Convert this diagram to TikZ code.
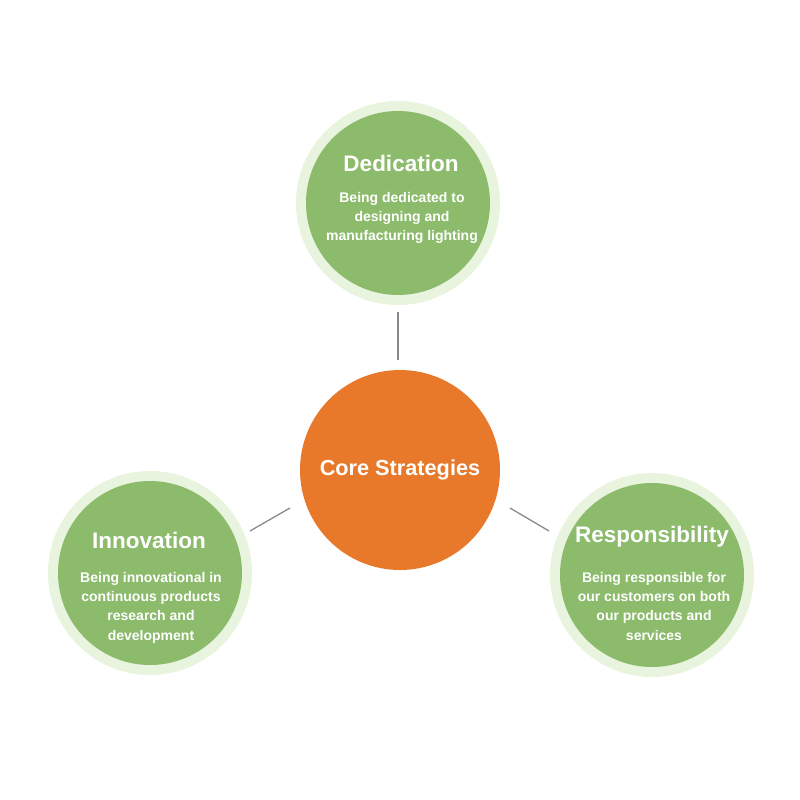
\documentclass[tikz,border=0pt]{standalone}
\usepackage{fontspec}
\setmainfont{Liberation Sans}
\definecolor{gfill}{HTML}{8CBB6C}
\definecolor{ghalo}{HTML}{E9F4DF}
\definecolor{ofill}{HTML}{E8792A}
\definecolor{lgray}{HTML}{8A8A8A}
\tikzset{
  halo/.style={circle, fill=ghalo, minimum size=204pt, inner sep=0pt},
  gcirc/.style={circle, fill=gfill, minimum size=184pt, inner sep=0pt},
  core/.style={circle, fill=ofill, minimum size=200pt, inner sep=0pt, text=white, font=\bfseries\fontsize{21.7}{24}\selectfont},
  title/.style={text=white, font=\bfseries\fontsize{22.5}{26}\selectfont, inner sep=0pt},
  body/.style={text=white, font=\bfseries\fontsize{14}{19.3}\selectfont, align=center, inner sep=0pt},
  conn/.style={draw=lgray, line width=1.3pt}
}
\begin{document}
\begin{tikzpicture}[x=1pt,y=-1pt]
\useasboundingbox (0,0) rectangle (800,800);
% top
\node[halo] (tophalo) at (398,203) {};
\node[gcirc] (top) at (398,203) {};
\node[title] (toptitle) at (401,163) {Dedication};
\node[body, anchor=north] (topbody) at (402,192) {Being dedicated to\\designing and\\manufacturing lighting};
% left
\node[halo] (lefthalo) at (150,573) {};
\node[gcirc] (left) at (150,573) {};
\node[title] (lefttitle) at (149,540) {Innovation};
\node[body, anchor=north] (leftbody) at (151,572) {Being innovational in\\continuous products\\research and\\development};
% right
\node[halo] (righthalo) at (652,575) {};
\node[gcirc] (right) at (652,575) {};
\node[title] (righttitle) at (652,537) {Responsibility};
\node[body, anchor=north] (rightbody) at (654,572) {Being responsible for\\our customers on both\\our products and\\services};
% core
\node[core] (core) at (400,470) {Core Strategies};
% connectors
\coordinate (t1) at (398,312);
\coordinate (t2) at (398,360);
\coordinate (l1) at (290,508);
\coordinate (l2) at (250,531);
\coordinate (r1) at (510,508);
\coordinate (r2) at (549,531);
\draw[conn] (t1) -- (t2);
\draw[conn] (l1) -- (l2);
\draw[conn] (r1) -- (r2);
\end{tikzpicture}
\end{document}
